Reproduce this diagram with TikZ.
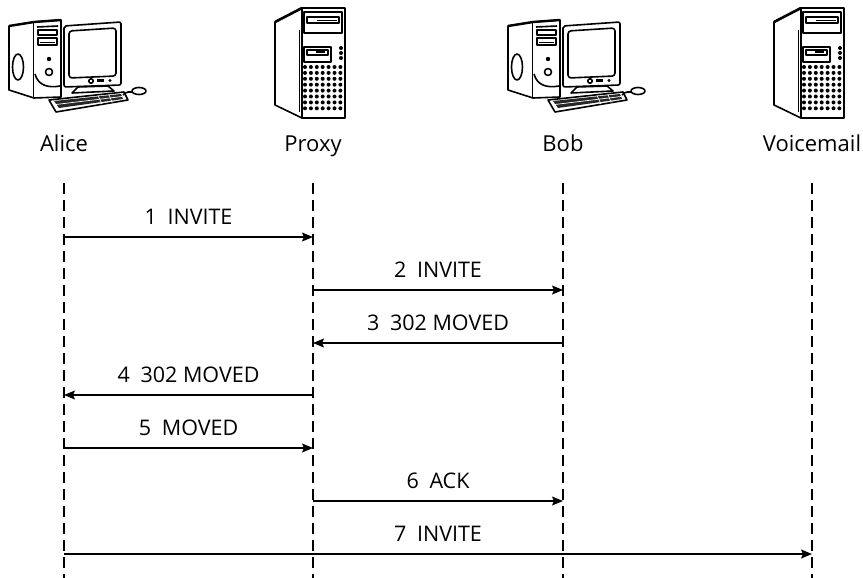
\documentclass[tikz,border=0pt]{standalone}
\usepackage{fontspec}
\setmainfont{Open Sans}
\usetikzlibrary{arrows.meta}

\tikzset{
  lifeline/.style={line width=1.3pt, dash pattern=on 11pt off 6pt},
  msg/.style={line width=1.3pt, -{Stealth[length=11pt,width=9pt,inset=2pt]}},
  msglabel/.style={font=\fontsize{21.5}{24}\selectfont, inner sep=0pt, anchor=base, yshift=12.5pt},
  actorname/.style={font=\fontsize{22}{26}\selectfont, inner sep=0pt, anchor=base},
  icon/.style={line width=1.6pt, line join=round},
  % desktop computer: tower, monitor, keyboard and mouse
  computer/.pic={
    \begin{scope}[icon]
      % tower side panel and front
      \draw[fill=white] (-55,26) -- (-30,22) -- (-30,98) -- (-55,90) -- cycle;
      \draw[fill=white] (-30,22) -- (-3,20) -- (-3,97) -- (-30,98);
      \draw[line width=2.4pt] (-55,26) -- (-30,22) -- (-3,20);
      \draw (-46,67) ellipse[x radius=5.5pt, y radius=13pt];
      % drive bays
      \draw (-27,27) -- (-6,26);
      \draw (-26,30) rectangle (-7,35);
      \draw (-26,38) rectangle (-7,45);
      \draw[line width=0.9pt] (-24,42) -- (-9,42);
      \fill (-15,59) circle[radius=2.2pt];
      \draw (-15,72) circle[radius=3.5pt];
      \draw (-29,74) .. controls (-26,86) and (-15,88) .. (-4,86);
      % monitor
      \draw[fill=white, rounded corners=2pt] (0,26) -- (57,22) -- (57,85) -- (0,87) -- cycle;
      \draw[rounded corners=3pt] (5,31) -- (52,28) -- (52,76) -- (5,78) -- cycle;
      \draw (27,81) circle[radius=2.2pt];
      \fill (33,79.5) rectangle (40,82.5);
      \fill (46,80.5) circle[radius=1.6pt];
      % stand
      \draw[fill=white] (14,87) -- (44,86) -- (50,91) -- (8,93) -- cycle;
      % keyboard
      \draw[fill=white] (-15,100) -- (60,92) -- (64,100) -- (-8,112) -- cycle;
      \fill[black!85] (-10,101) -- (57,94) -- (59,99) -- (-5,108) -- cycle;
      \draw[white, line width=0.7pt] (-8,104.5) -- (58,96.5);
      \draw[white, line width=0.7pt] (34,95.5) -- (38,104);
      \draw[white, line width=0.7pt] (45,94.5) -- (48,102.5);
      % mouse and cable
      \draw (59,95) .. controls (63,91) and (66,92) .. (68,92);
      \draw[fill=white] (75,91) ellipse[x radius=7pt, y radius=3.5pt];
    \end{scope}
  },
  % tower server
  server/.pic={
    \begin{scope}[icon]
      \draw[fill=white] (-38,22) -- (-11,8) -- (-11,118) -- (-38,105) -- cycle;
      \draw[line width=2.6pt] (-38,22) -- (-11,8);
      \draw[fill=white] (-11,8) rectangle (32,118);
      \draw[line width=2.6pt] (-11,118) -- (32,118);
      \draw[line width=0.9pt] (-14,30) -- (-14,112);
      % drive bays
      \draw (-9,12) rectangle (29,33);
      \draw (-6,17) rectangle (26,23);
      \draw[line width=0.9pt] (4,20) -- (24,20);
      \draw (-9,47) rectangle (18,62);
      \draw (-6,50) rectangle (15,55);
      \fill (3,51) rectangle (12,53);
      \foreach \yy in {48,53,58} \fill (28,\yy) circle[radius=2pt];
      % ventilation grid
      \foreach \i in {0,...,6} \foreach \j in {0,...,7}
        \fill (-8+5.9*\i, 67+5.9*\j) circle[radius=2pt];
    \end{scope}
  }
}

\newcommand{\msgtext}[2]{#1\hspace{0.5em}#2}

\begin{document}
\begin{tikzpicture}[x=1pt, y=-1pt]
  \useasboundingbox (0,0) rectangle (863,578);

  % participants
  \pic at (64,0) {computer};
  \pic at (313,0) {server};
  \pic at (563,0) {computer};
  \pic at (812,0) {server};

  \node[actorname] (alice) at (64,151) {Alice};
  \node[actorname] (proxy) at (313,151) {Proxy};
  \node[actorname] (bob)   at (563,151) {Bob};
  \node[actorname] (vm)    at (812,151) {Voicemail};

  % lifelines
  \foreach \n/\x in {a/64, p/313, b/563, v/812} {
    \coordinate (\n top) at (\x,183);
    \coordinate (\n bot) at (\x,578);
    \draw[lifeline] (\n top) -- (\n bot);
  }

  % message anchor points on each lifeline
  \foreach \n/\x in {a/64, p/313, b/563, v/812}
    \foreach \k/\y in {1/237, 2/290, 3/343, 4/395, 5/448, 6/501, 7/554}
      \coordinate (\n\k) at (\x,\y);

  % messages
  \draw[msg] (a1) -- node[msglabel] {\msgtext{1}{INVITE}} (p1);
  \draw[msg] (p2) -- node[msglabel] {\msgtext{2}{INVITE}} (b2);
  \draw[msg] (b3) -- node[msglabel] {\msgtext{3}{302 MOVED}} (p3);
  \draw[msg] (p4) -- node[msglabel] {\msgtext{4}{302 MOVED}} (a4);
  \draw[msg] (a5) -- node[msglabel] {\msgtext{5}{MOVED}} (p5);
  \draw[msg] (p6) -- node[msglabel] {\msgtext{6}{ACK}} (b6);
  \draw[msg] (a7) -- node[msglabel] {\msgtext{7}{INVITE}} (v7);
\end{tikzpicture}
\end{document}
